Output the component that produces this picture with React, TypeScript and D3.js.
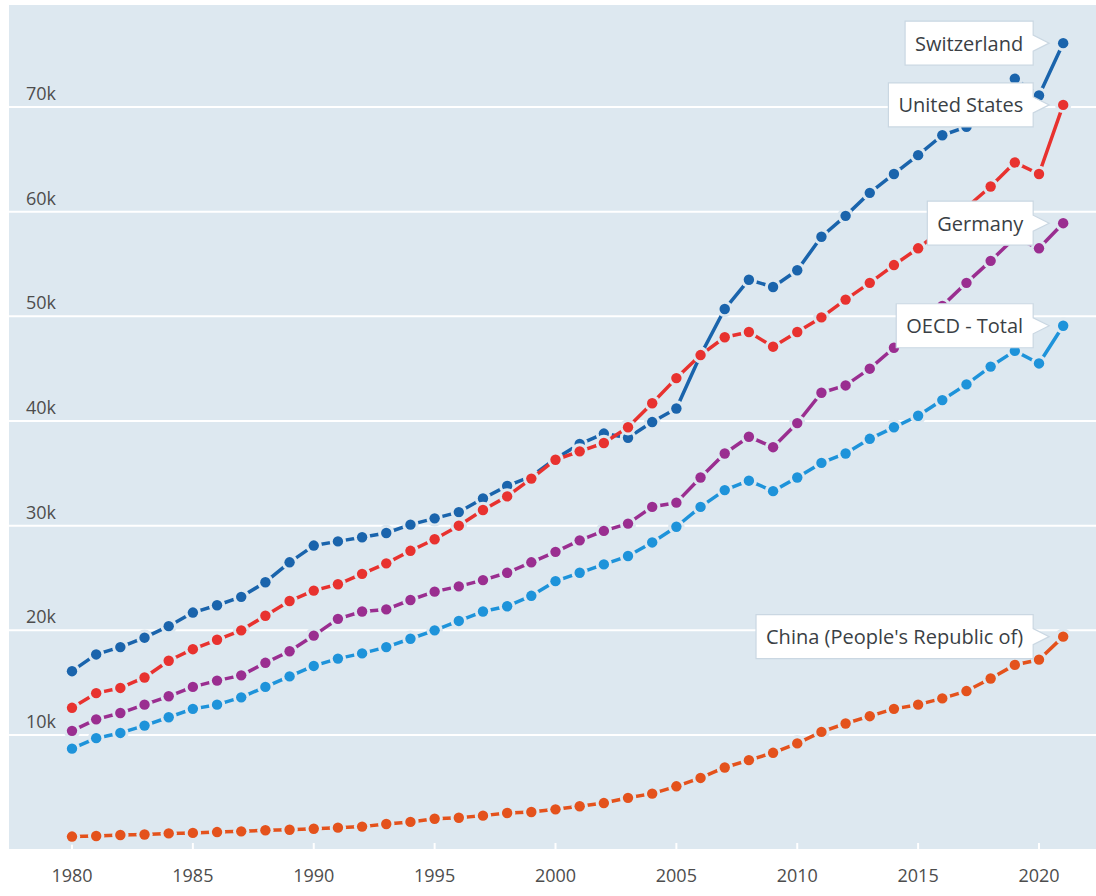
import React from 'react'
import * as d3 from 'd3'

const years = d3.range(1980, 2022)

const switzerland = [16100, 17700, 18400, 19300, 20400, 21700, 22400, 23200, 24600, 26500, 28100, 28500, 28900, 29300, 30100, 30700, 31300, 32600, 33800, 34700, 36400, 37800, 38800, 38400, 39900, 41200, 46300, 50700, 53500, 52800, 54400, 57600, 59600, 61800, 63600, 65400, 67300, 68100, 70000, 72700, 71100, 76100]
const unitedStates = [12600, 14000, 14500, 15500, 17100, 18200, 19100, 20000, 21400, 22800, 23800, 24400, 25400, 26400, 27600, 28700, 30000, 31500, 32800, 34500, 36300, 37100, 37900, 39400, 41700, 44100, 46300, 48000, 48500, 47100, 48500, 49900, 51600, 53200, 54900, 56500, 58300, 60400, 62400, 64700, 63600, 70200]
const germany = [10400, 11500, 12100, 12900, 13700, 14600, 15200, 15700, 16900, 18000, 19500, 21100, 21800, 22000, 22900, 23700, 24200, 24800, 25500, 26500, 27500, 28600, 29500, 30200, 31800, 32200, 34600, 36900, 38500, 37500, 39800, 42700, 43400, 45000, 47000, 48900, 51000, 53200, 55300, 57500, 56500, 58900]
const oecdTotal = [8700, 9700, 10200, 10900, 11700, 12500, 12900, 13600, 14600, 15600, 16600, 17300, 17800, 18400, 19200, 20000, 20900, 21800, 22300, 23300, 24700, 25500, 26300, 27100, 28400, 29900, 31800, 33400, 34300, 33300, 34600, 36000, 36900, 38300, 39400, 40500, 42000, 43500, 45200, 46700, 45500, 49100]
const china = [300, 350, 450, 500, 600, 650, 730, 800, 900, 950, 1050, 1150, 1250, 1500, 1700, 2000, 2100, 2300, 2550, 2650, 2900, 3200, 3500, 4000, 4400, 5100, 5900, 6900, 7600, 8300, 9200, 10300, 11100, 11800, 12500, 12900, 13500, 14200, 15400, 16700, 17200, 19400]

const yTicks = [10000, 20000, 30000, 40000, 50000, 60000, 70000]
const xTicks = [1980, 1985, 1990, 1995, 2000, 2005, 2010, 2015, 2020]

// drawing order: the red line sits over the dark blue one
const series = [
    { name: "China (People's Republic of)", values: china, color: '#e4521c' },
    { name: 'OECD - Total', values: oecdTotal, color: '#1e93da' },
    { name: 'Germany', values: germany, color: '#9a2e90' },
    { name: 'Switzerland', values: switzerland, color: '#1a64ac' },
    { name: 'United States', values: unitedStates, color: '#e8322f' },
]

const W = 1096
const H = 896
const bg = '#dde8f0'
const font = "'Open Sans', sans-serif"
const labelSize = 20

let canvas: HTMLCanvasElement | null = null
function textWidth(s: string, size: number) {
    if (!canvas) canvas = document.createElement('canvas')
    const ctx = canvas.getContext('2d')!
    ctx.font = `${size}px 'Open Sans'`
    return ctx.measureText(s).width
}

export default function App() {
    const x = d3.scaleLinear().domain([1980, 2020]).range([72, 1039])
    const y = d3.scaleLinear().domain([0, 70000]).range([839.7, 107])

    const line = d3.line<number>()
        .x((d, i) => x(years[i]))
        .y((d) => y(d))

    const panel = { left: 9, top: 5, right: W, bottom: 849 }

    return (
        <svg width={W} height={H} style={{ position: 'absolute', left: 0, top: 0, background: '#fff' }}>
            <rect x={panel.left} y={panel.top} width={panel.right - panel.left} height={panel.bottom - panel.top} fill={bg} />

            {yTicks.map((t) => (
                <g key={t}>
                    <line x1={panel.left} x2={panel.right} y1={y(t)} y2={y(t)} stroke="#fff" strokeWidth={2} />
                    <text x={26} y={y(t) - 7} fontFamily={font} fontSize={18} fill="#4d4d4d">{`${t / 1000}k`}</text>
                </g>
            ))}

            {xTicks.map((t) => (
                <g key={t}>
                    <line x1={x(t)} x2={x(t)} y1={843} y2={panel.bottom} stroke="#fff" strokeWidth={2} />
                    <text x={x(t)} y={882} textAnchor="middle" fontFamily={font} fontSize={18} fill="#4d4d4d">{t}</text>
                </g>
            ))}

            {series.map((s) => (
                <g key={s.name}>
                    <path d={line(s.values) || ''} fill="none" stroke={s.color} strokeWidth={3.5} strokeLinejoin="round" />
                    {s.values.map((v, i) => (
                        <g key={i}>
                            <circle cx={x(years[i])} cy={y(v)} r={8.2} fill={bg} />
                            <circle cx={x(years[i])} cy={y(v)} r={5.2} fill={s.color} />
                        </g>
                    ))}
                </g>
            ))}

            {series.map((s) => {
                const last = s.values[s.values.length - 1]
                const cy = y(last)
                const x1 = x(2021) - 30
                const w = textWidth(s.name, labelSize) + 20
                const x0 = x1 - w
                const y0 = cy - 22
                const y1 = cy + 22
                const d = `M${x0},${y0}H${x1}V${cy - 8}L${x1 + 16},${cy}L${x1},${cy + 8}V${y1}H${x0}Z`
                return (
                    <g key={'lbl' + s.name}>
                        <path d={d} fill="#fff" stroke="#cad7e2" strokeWidth={1.2} />
                        <text x={x0 + 10} y={cy} dominantBaseline="central" fontFamily={font} fontSize={labelSize} fill="#3a3f45">{s.name}</text>
                    </g>
                )
            })}
        </svg>
    )
}
